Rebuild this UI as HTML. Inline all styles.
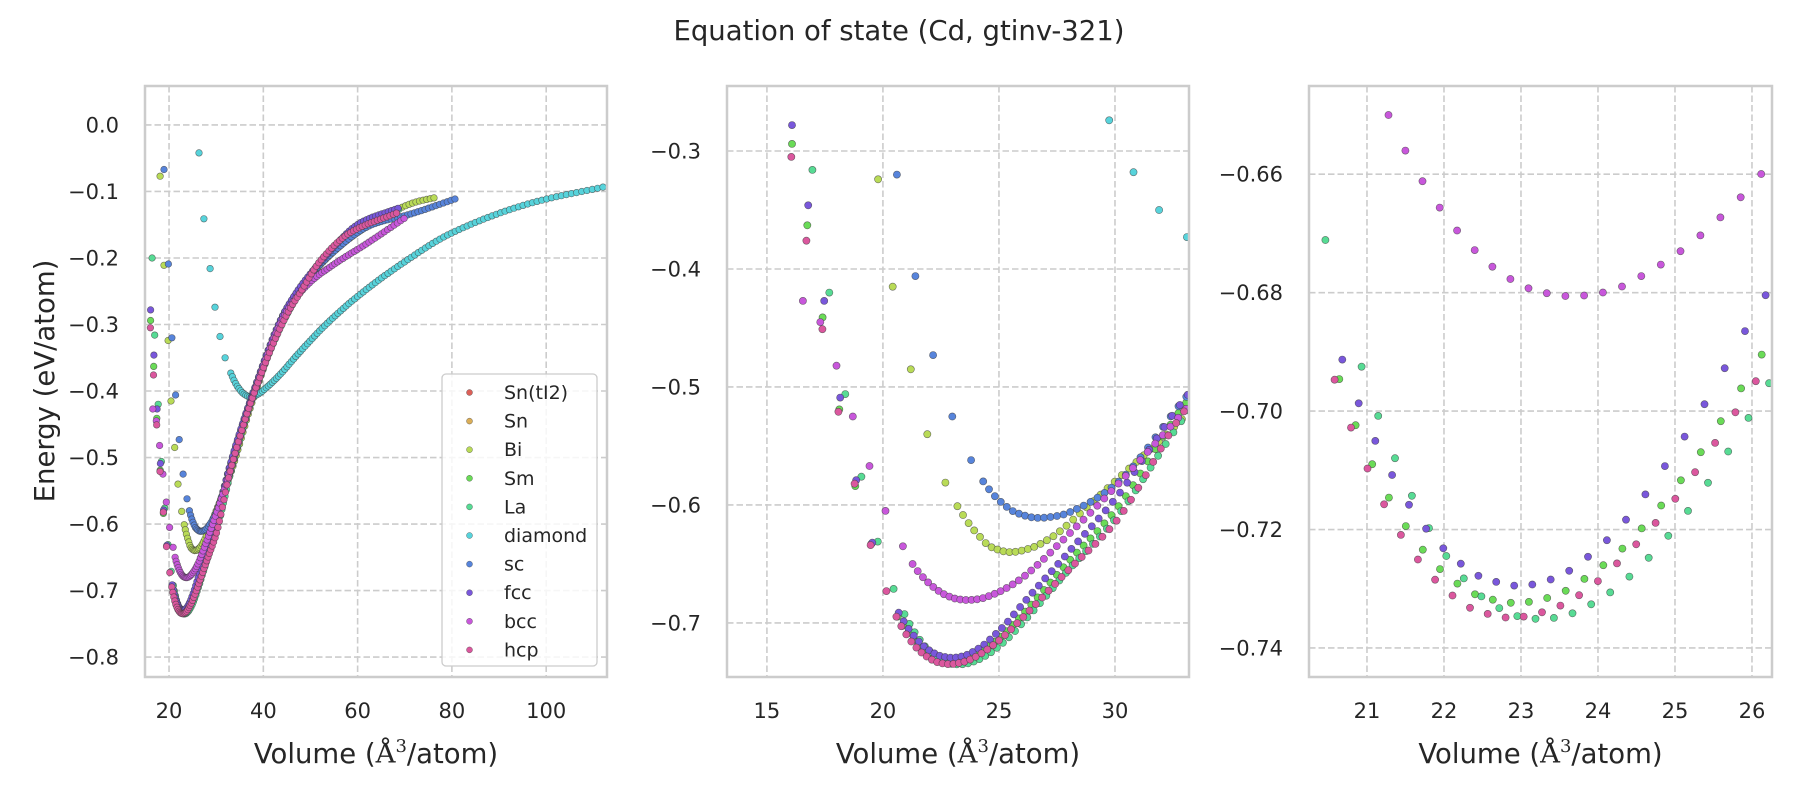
<!DOCTYPE html>
<html><head><meta charset="utf-8">
<style>
html,body{margin:0;padding:0;background:#fff;}
svg{display:block;}
text{font-family:"DejaVu Sans","Liberation Sans",sans-serif;fill:#262626;}
</style></head>
<body>
<svg id="s" width="1800" height="800" xmlns="http://www.w3.org/2000/svg"></svg>
<script>
const NS="http://www.w3.org/2000/svg";
const svg=document.getElementById('s');
function el(tag,attrs,parent,txt){const e=document.createElementNS(NS,tag);for(const k in attrs)e.setAttribute(k,attrs[k]);if(txt!==undefined)e.textContent=txt;(parent||svg).appendChild(e);return e;}

const C={tI2:'#db5f57',Sn:'#dbae57',Bi:'#b9db57',Sm:'#6adb57',La:'#57db94',diamond:'#57d3db',sc:'#5784db',fcc:'#7957db',bcc:'#c857db',hcp:'#db579e'};

const S={
 Bi:{k:[[18.1,-0.077],[18.94,-0.211],[19.79,-0.324],[20.42,-0.415],[21.2,-0.485],[21.91,-0.54],[22.69,-0.581],[23.21,-0.601],[24,-0.623],[24.7,-0.636],[25.5,-0.640],[26.3,-0.637],[27.3,-0.627],[28.5,-0.607],[30,-0.58],[33,-0.525],[37.7,-0.415],[45,-0.28],[55,-0.19],[65,-0.14],[72.3,-0.116],[76.9,-0.1086]],d:23.21,e:76.9},
 Sm:{k:[[16.08,-0.294],[16.74,-0.363],[17.4,-0.441],[18.12,-0.519],[18.81,-0.584],[19.5,-0.633],[20.64,-0.6946],[21.09,-0.7096],[21.55,-0.7203],[22.01,-0.7274],[22.46,-0.7312],[22.93,-0.7324],[23.39,-0.7314],[23.84,-0.7282],[24.31,-0.7233],[24.76,-0.7169],[25.22,-0.7091],[25.9,-0.6953],[28,-0.648],[30,-0.605],[33,-0.515],[37.7,-0.41],[45,-0.28],[53,-0.2],[60,-0.155],[69,-0.124]],d:20.64,e:69},
 La:{k:[[16.4,-0.2],[16.96,-0.316],[17.69,-0.42],[18.38,-0.506],[19.07,-0.576],[19.78,-0.631],[20.46,-0.6711],[20.93,-0.6925],[21.16,-0.7013],[21.63,-0.7155],[22.1,-0.7257],[22.55,-0.7319],[23.02,-0.7348],[23.25,-0.7351],[23.49,-0.7348],[23.96,-0.7323],[24.42,-0.7278],[24.89,-0.7214],[25.35,-0.7136],[26.25,-0.6947],[28,-0.655],[30,-0.612],[33,-0.525],[37.7,-0.41],[45,-0.285],[53,-0.2],[60,-0.158],[69,-0.126]],d:20.93,e:69},
 diamond:{k:[[26.36,-0.042],[27.4,-0.141],[28.7,-0.216],[29.75,-0.274],[30.8,-0.318],[31.9,-0.35],[33.1,-0.373],[34.5,-0.393],[36,-0.405],[37.3,-0.409],[38.8,-0.405],[40.8,-0.394],[43.7,-0.374],[46.9,-0.348],[53,-0.302],[59.1,-0.263],[69.1,-0.21],[79.8,-0.163],[97.5,-0.116],[112.1,-0.0934]],d:33.1,e:112.1},
 sc:{k:[[18.94,-0.067],[19.86,-0.209],[20.6,-0.32],[21.4,-0.406],[22.16,-0.473],[22.99,-0.525],[23.8,-0.562],[24.32,-0.58],[25,-0.596],[25.8,-0.607],[26.7,-0.611],[27.6,-0.609],[28.5,-0.602],[30,-0.583],[33,-0.51],[37.7,-0.405],[45,-0.275],[55,-0.19],[63,-0.15],[71.2,-0.134],[80.8,-0.111]],d:24.32,e:80.8},
 fcc:{k:[[16.08,-0.278],[16.78,-0.346],[17.47,-0.427],[18.16,-0.509],[18.85,-0.579],[19.54,-0.632],[20.68,-0.6913],[21.14,-0.7059],[21.59,-0.7167],[22.06,-0.724],[22.52,-0.7282],[22.98,-0.7295],[23.44,-0.7282],[23.89,-0.7244],[24.36,-0.7184],[24.81,-0.7104],[25.28,-0.7011],[25.97,-0.6851],[28,-0.64],[30,-0.595],[33,-0.51],[37.7,-0.405],[45,-0.275],[53.5,-0.195],[60.6,-0.147],[68.7,-0.125]],d:20.68,e:68.7},
 bcc:{k:[[16.55,-0.427],[17.3,-0.445],[18.0,-0.482],[18.7,-0.525],[19.42,-0.567],[20.11,-0.605],[20.86,-0.635],[21.28,-0.65],[21.75,-0.6618],[22.23,-0.6704],[22.7,-0.6763],[23.18,-0.6796],[23.65,-0.6806],[24.13,-0.6798],[24.59,-0.677],[25.06,-0.6731],[25.54,-0.6679],[26.0,-0.6618],[28,-0.625],[30,-0.585],[33,-0.52],[37.7,-0.41],[45,-0.28],[50,-0.236],[54.9,-0.21],[62,-0.178],[70.5,-0.1375]],d:21.28,e:70.5},
 hcp:{k:[[16.05,-0.305],[16.7,-0.376],[17.39,-0.451],[18.08,-0.521],[18.78,-0.582],[19.47,-0.634],[20.15,-0.673],[20.58,-0.6947],[21.03,-0.7104],[21.49,-0.7219],[21.96,-0.7294],[22.41,-0.7336],[22.87,-0.7349],[23.32,-0.7338],[23.79,-0.7308],[24.24,-0.7258],[24.7,-0.7196],[25.15,-0.7123],[25.84,-0.6991],[28,-0.655],[30,-0.615],[33,-0.52],[37.7,-0.41],[45,-0.285],[48,-0.25],[52,-0.205],[58.4,-0.162],[68.4,-0.132]],d:20.58,e:68.4}
};
const order=['Bi','Sm','La','diamond','sc','fcc','bcc','hcp'];

function mono(pts){
 const n=pts.length,xs=pts.map(p=>p[0]),ys=pts.map(p=>p[1]);
 const d=[],m=[];
 for(let i=0;i<n-1;i++)d.push((ys[i+1]-ys[i])/(xs[i+1]-xs[i]));
 m[0]=d[0];m[n-1]=d[n-2];
 for(let i=1;i<n-1;i++){ if(d[i-1]*d[i]<=0)m[i]=0; else {const w1=2*(xs[i+1]-xs[i])+(xs[i]-xs[i-1]),w2=(xs[i+1]-xs[i])+2*(xs[i]-xs[i-1]);m[i]=(w1+w2)/(w1/d[i-1]+w2/d[i]);}}
 return function(x){
  let i=0;while(i<n-2&&x>xs[i+1])i++;
  const h=xs[i+1]-xs[i],t=(x-xs[i])/h;
  const h00=2*t*t*t-3*t*t+1,h10=t*t*t-2*t*t+t,h01=-2*t*t*t+3*t*t,h11=t*t*t-t*t;
  return h00*ys[i]+h10*h*m[i]+h01*ys[i+1]+h11*h*m[i+1];
 };
}
const data={};
for(const k of order){
 const s=S[k],f=mono(s.k),pts=[];
 for(const p of s.k){if(p[0]<s.d-0.01)pts.push([p[0],p[1]]);}
 let v=s.d;while(v<=s.e+0.01){pts.push([v,f(v)]);v*=1.0103;}
 data[k]=pts;
}

const panels=[
 {x0:145,x1:607,vmin:14.9,vmax:112.9,ymax:0.0586,ymin:-0.83,xt:[20,40,60,80,100],yt:[0,-0.1,-0.2,-0.3,-0.4,-0.5,-0.6,-0.7,-0.8],yd:1,r:3.3},
 {x0:727,x1:1189,vmin:13.28,vmax:33.19,ymax:-0.2449,ymin:-0.7458,xt:[15,20,25,30],yt:[-0.3,-0.4,-0.5,-0.6,-0.7],yd:1,r:3.6},
 {x0:1309,x1:1772,vmin:20.247,vmax:26.26,ymax:-0.6451,ymin:-0.7449,xt:[21,22,23,24,25,26],yt:[-0.66,-0.68,-0.70,-0.72,-0.74],yd:2,r:3.6}
];
const Y0=86,Y1=677;
const defs=el('defs',{});
panels.forEach((p,i)=>{
 const sx=v=>p.x0+(v-p.vmin)/(p.vmax-p.vmin)*(p.x1-p.x0);
 const sy=e=>Y0+(p.ymax-e)/(p.ymax-p.ymin)*(Y1-Y0);
 const cp=el('clipPath',{id:'c'+i},defs);el('rect',{x:p.x0,y:Y0,width:p.x1-p.x0,height:Y1-Y0},cp);
 for(const t of p.xt){const x=sx(t);el('line',{x1:x,x2:x,y1:Y0,y2:Y1,stroke:'#cccccc','stroke-width':1.6,'stroke-dasharray':'6.5,3'});
  el('text',{x:x,y:718,'font-size':21,'text-anchor':'middle'},svg,String(t));}
 for(const t of p.yt){const y=sy(t);el('line',{x1:p.x0,x2:p.x1,y1:y,y2:y,stroke:'#cccccc','stroke-width':1.6,'stroke-dasharray':'6.5,3'});
  let s=Math.abs(t).toFixed(p.yd);if(t<-1e-9)s='\u2212'+s;
  el('text',{x:p.x0-26,y:y+7.5,'font-size':21,'text-anchor':'end'},svg,s);}
 const g=el('g',{'clip-path':'url(#c'+i+')'});
 for(const k of order){for(const pt of data[k]){const x=sx(pt[0]),y=sy(pt[1]);
  if(x<p.x0-6||x>p.x1+6||y<Y0-6||y>Y1+6)continue;
  el('circle',{cx:x.toFixed(1),cy:y.toFixed(1),r:p.r,fill:C[k],stroke:'#3a3a3a','stroke-opacity':0.7,'stroke-width':0.6},g);}}
 el('rect',{x:p.x0,y:Y0,width:p.x1-p.x0,height:Y1-Y0,fill:'none',stroke:'#cccccc','stroke-width':2.5});
 const xl=el('text',{x:(p.x0+p.x1)/2,y:763,'font-size':27.5,'text-anchor':'middle'});
 el('tspan',{},xl,'Volume (');
 el('tspan',{'font-family':'"DejaVu Serif","Liberation Serif",serif'},xl,'\u00c5');
 el('tspan',{'font-family':'"DejaVu Serif","Liberation Serif",serif','font-size':18,dy:-11},xl,'3');
 el('tspan',{dy:11},xl,'/atom)');
});
el('text',{x:0,y:0,'font-size':27.5,'text-anchor':'middle',transform:'translate(54,381) rotate(-90)'},svg,'Energy (eV/atom)');
el('text',{x:899,y:40,'font-size':27.5,'text-anchor':'middle'},svg,'Equation of state (Cd, gtinv-321)');
el('rect',{x:442,y:374,width:155,height:292,rx:4,fill:'#ffffff','fill-opacity':0.82,stroke:'#cccccc','stroke-width':1.3});
const ln=[['Sn(tI2)','tI2'],['Sn','Sn'],['Bi','Bi'],['Sm','Sm'],['La','La'],['diamond','diamond'],['sc','sc'],['fcc','fcc'],['bcc','bcc'],['hcp','hcp']];
ln.forEach((l,i)=>{const y=392.5+i*28.6;
 el('circle',{cx:469.5,cy:y,r:3,fill:C[l[1]],stroke:'#3a3a3a','stroke-opacity':0.7,'stroke-width':0.5});
 el('text',{x:504,y:y+6.5,'font-size':19},svg,l[0]);});
</script>
</body></html>
